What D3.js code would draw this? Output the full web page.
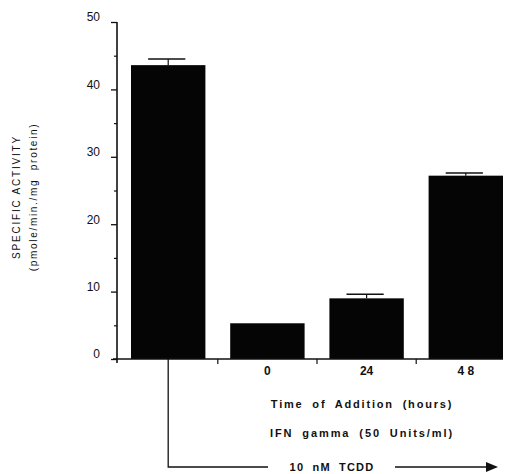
<!DOCTYPE html>
<html lang="en">
  <head>
    <meta charset="utf-8">
    <title>Specific activity vs time of IFN addition</title>
    <script src="https://d3js.org/d3.v7.min.js"></script>
    <style>
      body { margin: 0; background: #fff; }
      text { font-family: "Liberation Sans", Arial, sans-serif; fill: #111; }
    </style>
  </head>
  <body>
    <svg id="chart" width="514" height="474"></svg>
    <script type="text/javascript">
      // data
      var categories = ["TCDD", "0", "24", "4 8"];
      var values = [43.6, 5.3, 9.0, 27.2];
      var errors = [0.9, 0.0, 0.6, 0.4];
      var xTickLabels = ["", "0", "24", "4 8"];
      var yMajorTicks = [0, 10, 20, 30, 40, 50];
      var yMinorTicks = [5, 15, 25, 35, 45];

      var rows = categories.map((c, i) => ({cat: c, value: values[i], err: errors[i], label: xTickLabels[i]}));

      var svg = d3.select("svg#chart");
      var axisX = 117, baseY = 359;

      var yScale = d3.scaleLinear().domain([0, 50]).range([baseY, 22]);
      var xScale = d3.scaleBand().domain(categories).range([131, 503])
                    .paddingInner(0.25).paddingOuter(0);
      var bw = xScale.bandwidth();

      // bars
      svg.append("g").selectAll("rect").data(rows).enter().append("rect")
        .attr("x", d => xScale(d.cat))
        .attr("y", d => yScale(d.value))
        .attr("width", bw)
        .attr("height", d => baseY - yScale(d.value))
        .attr("fill", "#050505");

      // error bars
      var eb = svg.append("g").selectAll("g").data(rows.filter(d => d.err > 0)).enter().append("g");
      eb.append("line")
        .attr("x1", d => xScale(d.cat) + bw / 2).attr("x2", d => xScale(d.cat) + bw / 2)
        .attr("y1", d => yScale(d.value)).attr("y2", d => yScale(d.value + d.err))
        .attr("stroke", "#111").attr("stroke-width", 1.2);
      eb.append("line")
        .attr("x1", d => xScale(d.cat) + bw * 0.23).attr("x2", d => xScale(d.cat) + bw * 0.73)
        .attr("y1", d => yScale(d.value + d.err)).attr("y2", d => yScale(d.value + d.err))
        .attr("stroke", "#111").attr("stroke-width", 1.5);

      // y axis
      var yAxis = d3.axisLeft(yScale).tickValues(yMajorTicks).tickSize(6).tickPadding(11);
      var gy = svg.append("g").attr("transform", "translate(" + axisX + ",0)").call(yAxis);
      gy.select(".domain").remove();
      gy.selectAll("line").attr("stroke", "#111").attr("stroke-width", 1.3);
      gy.selectAll("text").style("font-size", "12px").attr("dy", "-0.1em");
      var gyMinor = svg.append("g").attr("transform", "translate(" + axisX + ",0)")
        .call(d3.axisLeft(yScale).tickValues(yMinorTicks).tickSize(3).tickFormat(""));
      gyMinor.select(".domain").remove();
      gyMinor.selectAll("line").attr("stroke", "#111").attr("stroke-width", 1.2);
      svg.append("line").attr("x1", axisX).attr("x2", axisX)
        .attr("y1", yScale(50)).attr("y2", baseY + 4)
        .attr("stroke", "#111").attr("stroke-width", 1.6);

      // x axis
      svg.append("line").attr("x1", axisX - 4).attr("x2", xScale.range()[1])
        .attr("y1", baseY).attr("y2", baseY).attr("stroke", "#111").attr("stroke-width", 1.4);
      var gap = xScale.step() * xScale.paddingInner() / 2;
      svg.append("g").selectAll("line").data(categories.slice(1)).enter().append("line")
        .attr("x1", d => xScale(d) - gap).attr("x2", d => xScale(d) - gap)
        .attr("y1", baseY).attr("y2", baseY + 5)
        .attr("stroke", "#111").attr("stroke-width", 1.2);
      svg.append("g").selectAll("text").data(rows).enter().append("text")
        .attr("x", d => xScale(d.cat) + bw / 2).attr("y", baseY + 16)
        .attr("text-anchor", "middle").style("font-size", "12px").style("font-weight", "bold")
        .text(d => d.label);

      // x titles
      var cx = 362;
      svg.append("text").attr("x", cx).attr("y", 408).attr("text-anchor", "middle")
        .style("font-size", "11px").style("font-weight", "bold")
        .style("letter-spacing", "1.8px").style("word-spacing", "4px")
        .text("Time of Addition (hours)");
      svg.append("text").attr("x", cx).attr("y", 437).attr("text-anchor", "middle")
        .style("font-size", "11px").style("font-weight", "bold")
        .style("letter-spacing", "1.9px").style("word-spacing", "4px")
        .text("IFN gamma (50 Units/ml)");

      // TCDD bracket and arrow
      var bx = xScale("TCDD") + bw / 2, ay = 467;
      svg.append("path")
        .attr("d", "M" + bx + "," + baseY + "V" + ay + "H268")
        .attr("fill", "none").attr("stroke", "#111").attr("stroke-width", 1.3);
      svg.append("text").attr("x", 332).attr("y", ay + 4).attr("text-anchor", "middle")
        .style("font-size", "11px").style("font-weight", "bold")
        .style("letter-spacing", "1.2px").style("word-spacing", "4px")
        .text("10 nM TCDD");
      svg.append("line").attr("x1", 395).attr("x2", 488).attr("y1", ay).attr("y2", ay)
        .attr("stroke", "#111").attr("stroke-width", 1.3);
      svg.append("path").attr("d", "M486," + (ay - 5) + "L498," + ay + "L486," + (ay + 5) + "Z")
        .attr("fill", "#111");

      // y title
      svg.append("text").attr("transform", "translate(20,197) rotate(-90)")
        .attr("text-anchor", "middle").style("font-size", "10px")
        .style("letter-spacing", "1.8px").text("SPECIFIC ACTIVITY");
      svg.append("text").attr("transform", "translate(37,197) rotate(-90)")
        .attr("text-anchor", "middle").style("font-size", "10px")
        .style("letter-spacing", "1.7px").style("word-spacing", "4px")
        .text("(pmole/min./mg protein)");
    </script>
  </body>
</html>
